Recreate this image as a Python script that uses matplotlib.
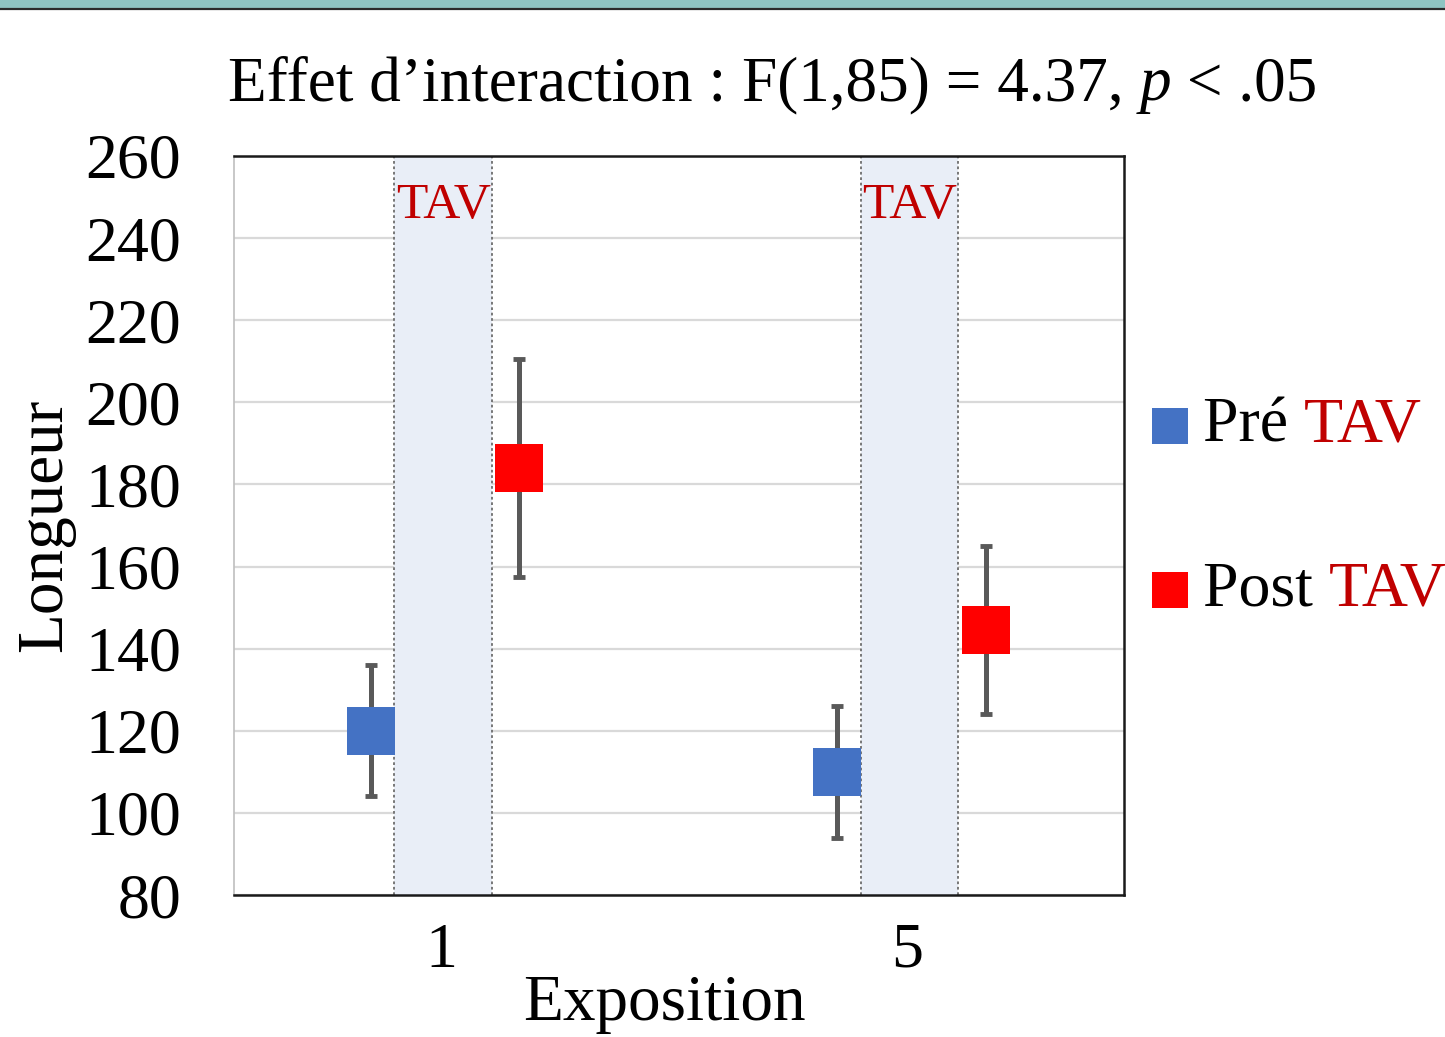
import matplotlib
matplotlib.use("Agg")
import matplotlib.pyplot as plt
from matplotlib.patches import Rectangle
from matplotlib.lines import Line2D

# ---- data ----
categories = ["1", "5"]
series_names = ["Pré", "Post"]
pre_means = [120, 110]
pre_err = [16, 16]
post_means = [184, 144.5]
post_err = [26.5, 20.5]
y_ticks = [80, 100, 120, 140, 160, 180, 200, 220, 240, 260]
title_left = "Effet d\u2019interaction : F(1,85) = 4.37, "
band_label = "TAV"

plt.rcParams['font.family'] = ['Liberation Serif', 'DejaVu Serif']

W, H = 1445, 1037
fig = plt.figure(figsize=(W / 100, H / 100), dpi=100)
fig.patch.set_facecolor("white")

# top decorative band
fig.add_artist(Rectangle((0, 1 - 8 / H), 1, 8 / H, transform=fig.transFigure,
                         facecolor="#8FC4C2", edgecolor="none"))
fig.add_artist(Line2D([0, 1], [1 - 9 / H, 1 - 9 / H], transform=fig.transFigure,
                      color="#2b2b2b", lw=1.6))

ax = fig.add_axes([234 / W, 1 - 895 / H, (1124 - 234) / W, (895 - 156) / H])

cat_x = [0.465, 1.513]
pre_off, post_off = -0.157, 0.176
band_lo, band_hi = -0.105, 0.115

# TAV bands
for cx in cat_x:
    ax.axvspan(cx + band_lo, cx + band_hi, facecolor="#E9EEF7", edgecolor="none", zorder=1)
    for bx in (cx + band_lo, cx + band_hi):
        ax.axvline(bx, color="#6d6d6d", lw=1.3, ls=(0, (1.5, 1.5)), zorder=2)
    ax.text(cx + (band_lo + band_hi) / 2, 247.8, band_label, color="#C00000",
            fontsize=37, ha="center", va="center", zorder=3)

# gridlines
ax.set_ylim(80, 260)
ax.set_xlim(0, 2)
ax.set_yticks(y_ticks)
ax.yaxis.grid(True, color="#D9D9D9", lw=1.6, zorder=0)
ax.set_axisbelow(True)

pre_x = [c + pre_off for c in cat_x]
post_x = [c + post_off for c in cat_x]

ax.errorbar(pre_x, pre_means, yerr=pre_err, fmt="none", ecolor="#595959",
            elinewidth=3.6, capsize=4.5, capthick=3.5, zorder=4)
ax.errorbar(post_x, post_means, yerr=post_err, fmt="none", ecolor="#595959",
            elinewidth=3.6, capsize=4.5, capthick=3.5, zorder=4)
ax.plot(pre_x, pre_means, ls="none", marker="s", markersize=34,
        color="#4472C4", markeredgewidth=0, zorder=5)
ax.plot(post_x, post_means, ls="none", marker="s", markersize=34,
        color="#FF0000", markeredgewidth=0, zorder=5)

ax.set_xticks(cat_x)
ax.set_xticklabels(categories)
ax.tick_params(axis="both", length=0, labelsize=46)
ax.tick_params(axis="x", pad=20)
ax.tick_params(axis="y", pad=38)

for s in ("top", "right", "bottom"):
    ax.spines[s].set_color("#1a1a1a")
    ax.spines[s].set_linewidth(1.8)
ax.spines["left"].set_color("#BFBFBF")
ax.spines["left"].set_linewidth(1.2)

ax.set_xlabel("Exposition", fontsize=47)
ax.xaxis.set_label_coords(0.484, -0.148)
ax.xaxis.label.set_va("center")
ax.set_ylabel("Longueur", fontsize=47)
ax.yaxis.set_label_coords(-0.212, 0.5)
ax.yaxis.label.set_va("center")

# title with italic p
t1 = fig.text(228 / W, 1 - 85 / H, title_left, fontsize=45.5, ha="left", va="center")
a1 = ax.annotate("p", xy=(1, 0), xycoords=t1, fontsize=45.5, style="italic",
                 va="bottom", ha="left")
a2 = ax.annotate(" < .05", xy=(1, 0), xycoords=a1, fontsize=45.5,
                 va="bottom", ha="left")

# legend (manual, with mixed colours)
leg_items = [("Pré", "#4472C4", 426), ("Post", "#FF0000", 590)]
for name, col, ypix in leg_items:
    fig.add_artist(Line2D([1170 / W], [1 - ypix / H], transform=fig.transFigure,
                          marker="s", markersize=26, color=col, markeredgewidth=0,
                          ls="none"))
    tx = fig.text(1203 / W, 1 - ypix / H, name + " ", fontsize=46, ha="left", va="center")
    ax.annotate("TAV", xy=(1, 0), xycoords=tx, fontsize=46, color="#C00000",
                va="bottom", ha="left")

fig.savefig("out.png", dpi=100, facecolor="white")
